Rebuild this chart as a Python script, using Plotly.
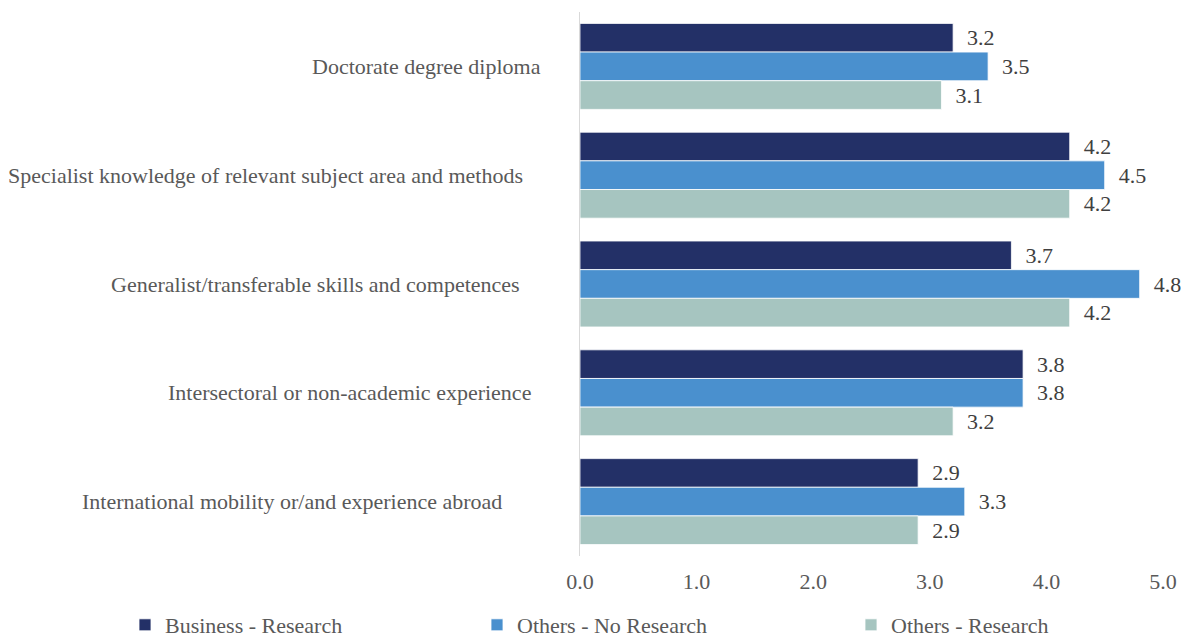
import plotly.graph_objects as go

categories = [
    "Doctorate degree diploma",
    "Specialist knowledge of relevant subject area and methods",
    "Generalist/transferable skills and competences",
    "Intersectoral or non-academic experience",
    "International mobility or/and experience abroad",
]
business_research = [3.2, 4.2, 3.7, 3.8, 2.9]
others_no_research = [3.5, 4.5, 4.8, 3.8, 3.3]
others_research = [3.1, 4.2, 4.2, 3.2, 2.9]

series_names = ["Business - Research", "Others - No Research", "Others - Research"]
series_values = [business_research, others_no_research, others_research]
colors = ["#233067", "#4A90CE", "#A6C5C0"]

FONT = "Times New Roman, Liberation Serif, DejaVu Serif, serif"
TEXT_COLOR = "#595959"
FS = 22

W, H = 1181, 642
M_L, M_R, M_T, M_B = 580, 18, 11.5, 85.5
plot_w = W - M_L - M_R

# right edge (px from the figure's left) of each category caption
label_right_px = [543, 525, 522, 533, 504]
# left edge (px) of each legend entry
legend_left_px = [125, 477, 851]

fig = go.Figure()
for i, (name, vals, col) in enumerate(zip(series_names, series_values, colors)):
    fig.add_trace(go.Bar(
        y=categories,
        x=vals,
        name=name,
        orientation="h",
        marker=dict(color=col, line=dict(color="white", width=0.8)),
        text=vals,
        texttemplate="  %{x:.1f}",
        textposition="outside",
        textfont=dict(family=FONT, size=FS, color="#404040"),
        cliponaxis=False,
        legend="legend" if i == 0 else f"legend{i + 1}",
    ))

for cat, rx in zip(categories, label_right_px):
    fig.add_annotation(
        x=(rx - M_L) / plot_w, xref="paper",
        y=cat, yref="y",
        text=cat, showarrow=False,
        xanchor="right", yanchor="middle",
        font=dict(family=FONT, size=FS, color=TEXT_COLOR),
    )

legend_common = dict(
    orientation="h", xref="container", yref="container",
    yanchor="top", y=(H - 604) / H, xanchor="left",
    font=dict(family=FONT, size=FS, color=TEXT_COLOR),
    bgcolor="rgba(0,0,0,0)",
)
legend_layout = {}
for i, lx in enumerate(legend_left_px):
    key = "legend" if i == 0 else f"legend{i + 1}"
    legend_layout[key] = dict(legend_common, x=lx / W)

fig.update_layout(
    width=W, height=H,
    margin=dict(l=M_L, r=M_R, t=M_T, b=M_B, autoexpand=False),
    paper_bgcolor="white", plot_bgcolor="white",
    barmode="group", bargap=0.21, bargroupgap=0,
    showlegend=True,
    font=dict(family=FONT, size=FS, color=TEXT_COLOR),
    xaxis=dict(
        range=[0, 5], dtick=1, tickformat=".1f",
        showgrid=False, zeroline=False, showline=False,
        ticks="outside", ticklen=6, tickcolor="rgba(0,0,0,0)",
        tickfont=dict(family=FONT, size=FS, color=TEXT_COLOR),
        fixedrange=True,
    ),
    yaxis=dict(
        autorange="reversed",
        showticklabels=False, showgrid=False, zeroline=False,
        showline=True, linecolor="#D9D9D9", linewidth=1,
        fixedrange=True,
    ),
    **legend_layout,
)

fig.write_html("out.html")
